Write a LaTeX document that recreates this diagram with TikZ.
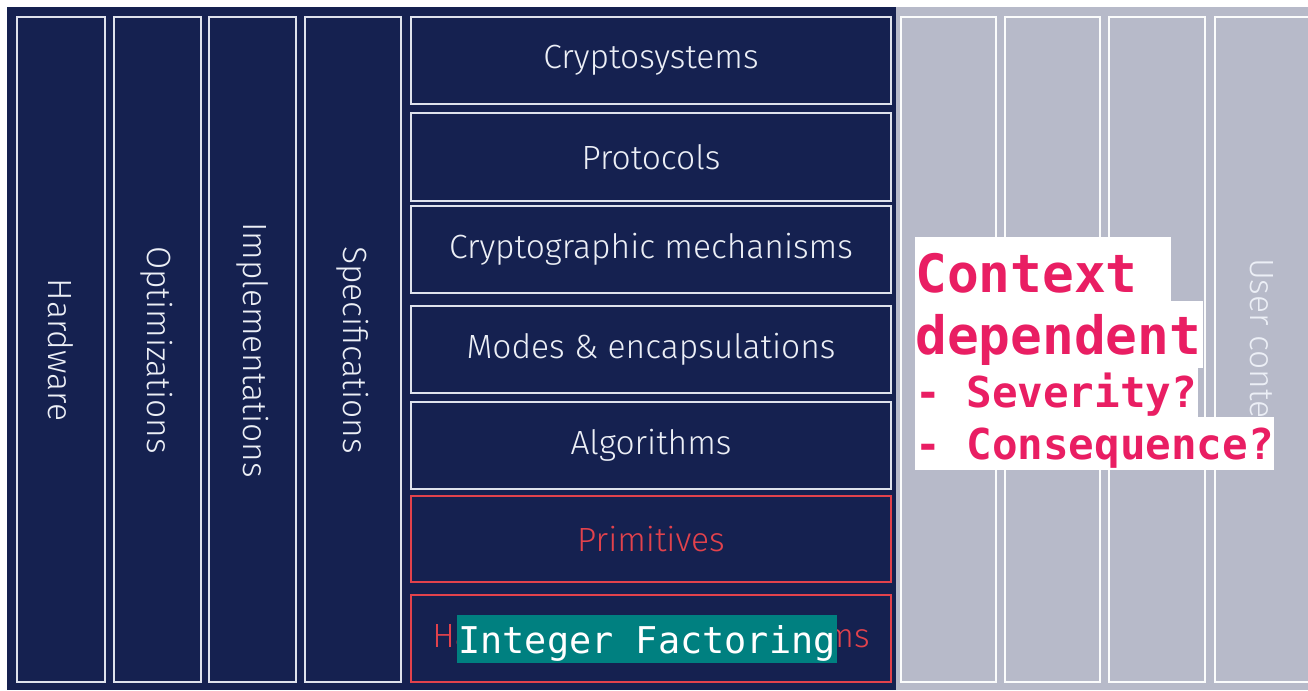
\documentclass[tikz,border=0pt]{standalone}
\usepackage{fontspec}
\setmainfont{Fira Sans Light}
\newfontfamily\monofont{DejaVu Sans Mono}
\definecolor{navy}{RGB}{21,33,80}
\definecolor{greybg}{RGB}{183,186,201}
\definecolor{linec}{RGB}{222,226,236}
\definecolor{redc}{RGB}{226,66,76}
\definecolor{pinkc}{RGB}{233,30,99}
\definecolor{tealc}{RGB}{0,128,128}
\definecolor{txtc}{RGB}{236,239,246}
\tikzset{
  colbox/.style={draw=linec, line width=2bp},
  rowbox/.style={draw=linec, line width=2bp},
  redbox/.style={draw=redc, line width=2bp},
  greybox/.style={draw=white!95!greybg, line width=2bp},
  lbl/.style={text=txtc, inner sep=0pt, font=\fontsize{33.7}{40}\selectfont},
  redlbl/.style={lbl, text=redc},
  vlbl/.style={lbl, rotate=-90},
  ctxbig/.style={text=pinkc, inner sep=0pt, anchor=base west, font=\monofont\bfseries\fontsize{53}{60}\selectfont},
  ctxsmall/.style={ctxbig, font=\monofont\bfseries\fontsize{42.7}{50}\selectfont},
}
\begin{document}
\begin{tikzpicture}[x=1bp,y=-1bp]
\useasboundingbox (0,0) rectangle (1308,690);
\clip (0,0) rectangle (1308,690);
\fill[white] (0,0) rectangle (1308,690);
\fill[navy] (7,7) rectangle (896,690);
\fill[greybg] (896,7) rectangle (1308,690);
% left vertical columns
\draw[colbox] (17,17) rectangle (105,682);
\draw[colbox] (113.5,17) rectangle (201,682);
\draw[colbox] (209,17) rectangle (296,682);
\draw[colbox] (305,17) rectangle (401,682);
\node[vlbl] (hw) at (61,350) {Hardware};
\node[vlbl] (opt) at (157,350) {Optimizations};
\node[vlbl] (impl) at (252.5,350) {Implementations};
\node[vlbl] (spec) at (353,350) {Specifications};
% right stack rows
\draw[rowbox] (411,17) rectangle (891,104);
\draw[rowbox] (411,113) rectangle (891,201);
\draw[rowbox] (411,206) rectangle (891,293);
\draw[rowbox] (411,306) rectangle (891,393);
\draw[rowbox] (411,402) rectangle (891,489);
\draw[redbox] (411,496) rectangle (891,582);
\draw[redbox] (411,595) rectangle (891,682);
\node[lbl] (cs) at (651,60.5) {Cryptosystems};
\node[lbl] (pr) at (651,157) {Protocols};
\node[lbl] (cm) at (651,249.5) {Cryptographic mechanisms};
\node[lbl] (me) at (651,349.5) {Modes \& encapsulations};
\node[lbl] (al) at (651,445.5) {Algorithms};
\node[redlbl] (pm) at (651,539.5) {Primitives};
\node[redlbl] (hp) at (651,638.5) {Hard mathematical problems};
\fill[tealc] (457,615) rectangle (837,663);
\node[text=white, inner sep=0pt, anchor=base,
      font=\monofont\fontsize{37}{40}\selectfont] (if) at (647,653) {Integer Factoring};
% grey columns
\draw[greybox] (901,17) rectangle (996,682);
\draw[greybox] (1005,17) rectangle (1100,682);
\draw[greybox] (1109,17) rectangle (1205,682);
\draw[greybox] (1215,17) rectangle (1330,682);
\node[lbl, rotate=-90, anchor=west] (uc) at (1262,258) {User conte};
% context box
\fill[white] (915,237) rectangle (1171,301);
\fill[white] (915,301) rectangle (1203,368);
\fill[white] (915,368) rectangle (1198,417);
\fill[white] (915,417) rectangle (1274,470);
\node[ctxbig] (c1) at (915,292) {Context};
\node[ctxbig] (c2) at (915,354) {dependent};
\node[ctxsmall] (c3) at (915,407) {- Severity?};
\node[ctxsmall] (c4) at (915,459) {- Consequence?};
\end{tikzpicture}
\end{document}
